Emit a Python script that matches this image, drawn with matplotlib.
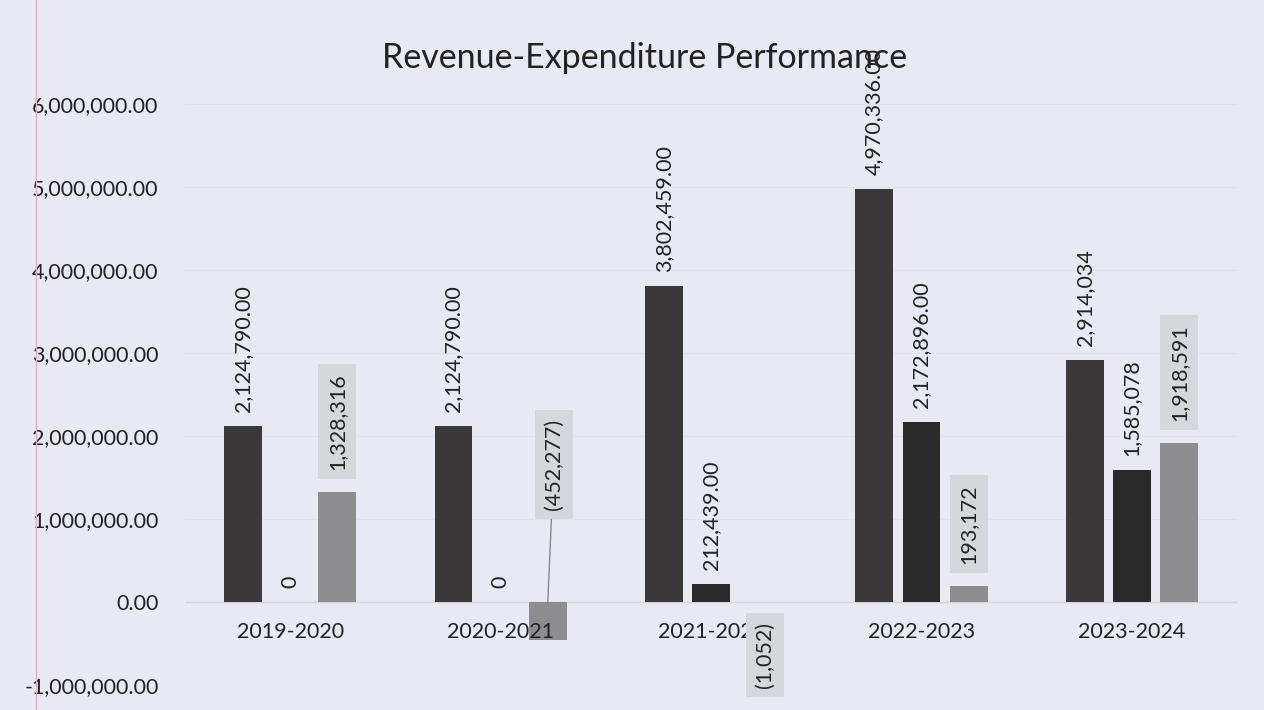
import matplotlib
matplotlib.use("Agg")
import matplotlib.pyplot as plt
import numpy as np
from matplotlib.lines import Line2D

categories = ["2019-2020", "2020-2021", "2021-2022", "2022-2023", "2023-2024"]
revenue = [2124790, 2124790, 3802459, 4970336, 2914034]
expenditure = [0, 0, 212439, 2172896, 1585078]
balance = [1328316, -452277, -1052, 193172, 1918591]

revenue_labels = ["2,124,790.00", "2,124,790.00", "3,802,459.00", "4,970,336.00", "2,914,034"]
expenditure_labels = ["0", "0", "212,439.00", "2,172,896.00", "1,585,078"]
balance_labels = ["1,328,316", "(452,277)", "(1,052)", "193,172", "1,918,591"]

yticks = [-1000000, 0, 1000000, 2000000, 3000000, 4000000, 5000000, 6000000]
ytick_labels = [f"{v:,.2f}" for v in yticks]

title = "Revenue-Expenditure Performance"

plt.rcParams['font.family'] = ['Lato', 'DejaVu Sans']

bg = '#e8e9f2'
c_rev = '#3a3838'
c_exp = '#2a2a2b'
c_bal = '#8d8d8f'
box_c = '#d6d7dd'

fig = plt.figure(figsize=(12.64, 7.10), dpi=100)
fig.patch.set_facecolor(bg)
ax = fig.add_axes([0.1464, 0.0352, 0.8323, 0.8183])
ax.set_facecolor(bg)

x = np.arange(len(categories))
w = 0.18
off = 0.224

ax.bar(x - off, revenue, w, color=c_rev, zorder=3)
ax.bar(x, expenditure, w, color=c_exp, zorder=3)
ax.bar(x + off, balance, w, color=c_bal, zorder=3)

ax.set_xlim(-0.5, len(categories) - 0.5)
ax.set_ylim(-1000000, 6000000)
ax.set_yticks(yticks)
ax.set_yticklabels(ytick_labels, fontsize=15.5, color='#222222')
ax.tick_params(axis='y', length=0, pad=19)
ax.set_xticks([])
for s in ax.spines.values():
    s.set_visible(False)
ax.yaxis.grid(True, color='#e0e1ea', lw=0.7, zorder=0)
ax.axhline(0, color='#d2d3db', lw=1, zorder=2)

fs = 15.5
for i in range(len(categories)):
    ax.annotate(revenue_labels[i], (x[i] - off, revenue[i]), xytext=(0, 14),
                textcoords='offset pixels', rotation=90, ha='center', va='bottom',
                fontsize=fs, color='#222222', zorder=5, annotation_clip=False)
    ax.annotate(expenditure_labels[i], (x[i], expenditure[i]), xytext=(0, 14),
                textcoords='offset pixels', rotation=90, ha='center', va='bottom',
                fontsize=fs, color='#222222', zorder=5, annotation_clip=False)
    bb = dict(boxstyle='square,pad=0.42', fc=box_c, ec='none')
    if balance[i] >= 0:
        ax.annotate(balance_labels[i], (x[i] + off, balance[i]), xytext=(0, 22),
                    textcoords='offset pixels', rotation=90, ha='center', va='bottom',
                    fontsize=fs, color='#222222', bbox=bb, zorder=5, annotation_clip=False)
    elif abs(balance[i]) > 100000:
        ax.annotate(balance_labels[i], (x[i] + off, 0), xytext=(6, 92),
                    textcoords='offset pixels', rotation=90, ha='center', va='bottom',
                    fontsize=fs, color='#222222', bbox=bb, zorder=5, annotation_clip=False,
                    arrowprops=dict(arrowstyle='-', color='#8a8a8a', lw=1, shrinkA=0, shrinkB=0))
    else:
        ax.annotate(balance_labels[i], (x[i] + off, balance[i]), xytext=(7, -20),
                    textcoords='offset pixels', rotation=90, ha='center', va='top',
                    fontsize=fs, color='#222222', bbox=bb, zorder=5, annotation_clip=False)
    ax.annotate(categories[i], (x[i], 0), xytext=(0, -20), textcoords='offset pixels',
                ha='center', va='top', fontsize=fs, color='#222222', zorder=4,
                annotation_clip=False)

fig.text(0.51, 1 - 58 / 710, title, ha='center', va='center', fontsize=24.5, color='#222222')
fig.add_artist(Line2D([36 / 1264, 36 / 1264], [0, 1], color='#dcb4c0', lw=1))

fig.savefig('out.png', dpi=100, facecolor=bg)
